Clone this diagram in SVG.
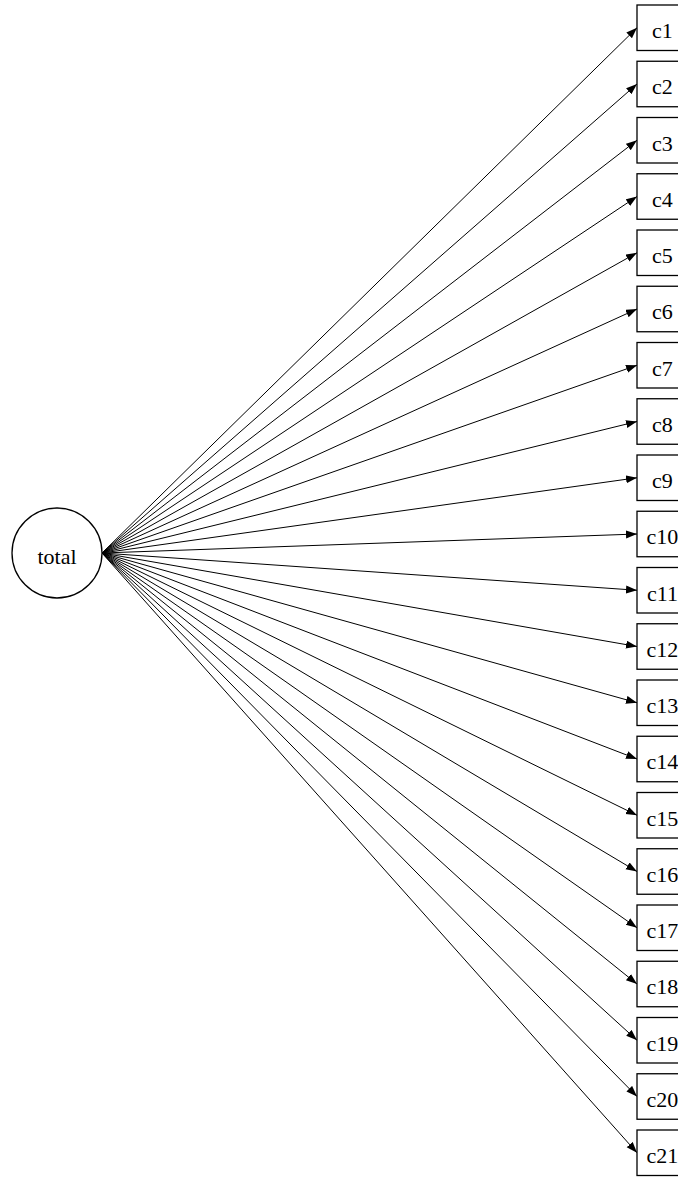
<svg xmlns="http://www.w3.org/2000/svg" width="678" height="1177" viewBox="0 0 678 1177">
<style>
.n{fill:#fff;stroke:#000;stroke-width:1.3}
.t{font-family:"Liberation Serif","Times New Roman",serif;font-size:22px;fill:#000;text-anchor:middle}
.e{stroke:#000;stroke-width:1;fill:none;marker-end:url(#a)}
</style>
<defs>
<marker id="a" markerUnits="userSpaceOnUse" markerWidth="12" markerHeight="10" refX="11" refY="4" orient="auto">
<path d="M0,0 L11,4 L0,8 Z" fill="#000"/>
</marker>
</defs>
<g id="edges">
<path class="e" d="M102,553 L637,27.75"/>
<path class="e" d="M102,553 L637,84"/>
<path class="e" d="M102,553 L637,140.25"/>
<path class="e" d="M102,553 L637,196.5"/>
<path class="e" d="M102,553 L637,252.75"/>
<path class="e" d="M102,553 L637,309"/>
<path class="e" d="M102,553 L637,365.25"/>
<path class="e" d="M102,553 L637,421.5"/>
<path class="e" d="M102,553 L637,477.75"/>
<path class="e" d="M102,553 L637,534"/>
<path class="e" d="M102,553 L637,590.25"/>
<path class="e" d="M102,553 L637,646.5"/>
<path class="e" d="M102,553 L637,702.75"/>
<path class="e" d="M102,553 L637,759"/>
<path class="e" d="M102,553 L637,815.25"/>
<path class="e" d="M102,553 L637,871.5"/>
<path class="e" d="M102,553 L637,927.75"/>
<path class="e" d="M102,553 L637,984"/>
<path class="e" d="M102,553 L637,1040.25"/>
<path class="e" d="M102,553 L637,1096.5"/>
<path class="e" d="M102,553 L637,1152.75"/>
</g>
<g id="total"><circle class="n" cx="57" cy="553" r="45"/><text class="t" x="57" y="564">total</text></g>
<g id="c1"><rect class="n" x="637" y="5" width="50" height="45.5"/><text class="t" x="662.5" y="38">c1</text></g>
<g id="c2"><rect class="n" x="637" y="61.25" width="50" height="45.5"/><text class="t" x="662.5" y="94.25">c2</text></g>
<g id="c3"><rect class="n" x="637" y="117.5" width="50" height="45.5"/><text class="t" x="662.5" y="150.5">c3</text></g>
<g id="c4"><rect class="n" x="637" y="173.75" width="50" height="45.5"/><text class="t" x="662.5" y="206.75">c4</text></g>
<g id="c5"><rect class="n" x="637" y="230" width="50" height="45.5"/><text class="t" x="662.5" y="263">c5</text></g>
<g id="c6"><rect class="n" x="637" y="286.25" width="50" height="45.5"/><text class="t" x="662.5" y="319.25">c6</text></g>
<g id="c7"><rect class="n" x="637" y="342.5" width="50" height="45.5"/><text class="t" x="662.5" y="375.5">c7</text></g>
<g id="c8"><rect class="n" x="637" y="398.75" width="50" height="45.5"/><text class="t" x="662.5" y="431.75">c8</text></g>
<g id="c9"><rect class="n" x="637" y="455" width="50" height="45.5"/><text class="t" x="662.5" y="488">c9</text></g>
<g id="c10"><rect class="n" x="637" y="511.25" width="50" height="45.5"/><text class="t" x="662.5" y="544.25">c10</text></g>
<g id="c11"><rect class="n" x="637" y="567.5" width="50" height="45.5"/><text class="t" x="662.5" y="600.5">c11</text></g>
<g id="c12"><rect class="n" x="637" y="623.75" width="50" height="45.5"/><text class="t" x="662.5" y="656.75">c12</text></g>
<g id="c13"><rect class="n" x="637" y="680" width="50" height="45.5"/><text class="t" x="662.5" y="713">c13</text></g>
<g id="c14"><rect class="n" x="637" y="736.25" width="50" height="45.5"/><text class="t" x="662.5" y="769.25">c14</text></g>
<g id="c15"><rect class="n" x="637" y="792.5" width="50" height="45.5"/><text class="t" x="662.5" y="825.5">c15</text></g>
<g id="c16"><rect class="n" x="637" y="848.75" width="50" height="45.5"/><text class="t" x="662.5" y="881.75">c16</text></g>
<g id="c17"><rect class="n" x="637" y="905" width="50" height="45.5"/><text class="t" x="662.5" y="938">c17</text></g>
<g id="c18"><rect class="n" x="637" y="961.25" width="50" height="45.5"/><text class="t" x="662.5" y="994.25">c18</text></g>
<g id="c19"><rect class="n" x="637" y="1017.5" width="50" height="45.5"/><text class="t" x="662.5" y="1050.5">c19</text></g>
<g id="c20"><rect class="n" x="637" y="1073.75" width="50" height="45.5"/><text class="t" x="662.5" y="1106.75">c20</text></g>
<g id="c21"><rect class="n" x="637" y="1130" width="50" height="45.5"/><text class="t" x="662.5" y="1163">c21</text></g>
</svg>
